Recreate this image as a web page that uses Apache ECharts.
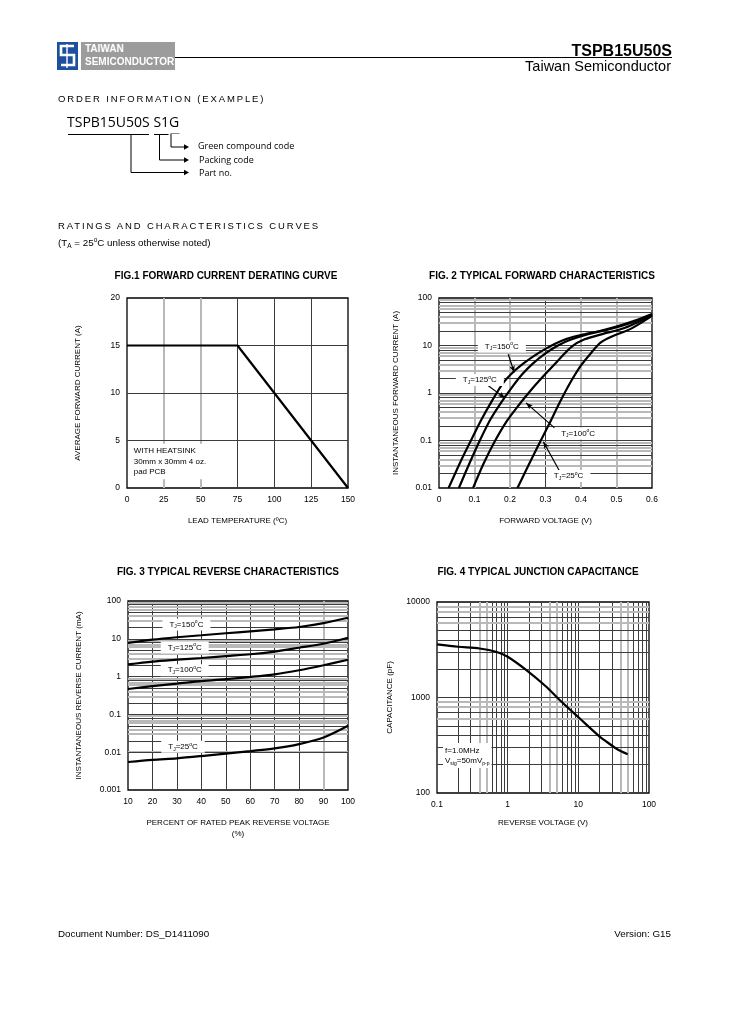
<!DOCTYPE html>
<html>
<head>
<meta charset="utf-8">
<script src="https://cdn.jsdelivr.net/npm/echarts@6/dist/echarts.min.js"></script>
<style>
body { margin: 0; background: #fff; font-family: "Liberation Sans", Arial, sans-serif; color: #000; }
#page { position: relative; width: 729px; height: 1032px; overflow: hidden; }
#chart { position: absolute; left: 0; top: 0; width: 729px; height: 1032px; }
.t { position: absolute; white-space: nowrap; line-height: 1; z-index: 2; }
.ttl { position: absolute; width: 300px; text-align: center; font-weight: bold; font-size: 10px; line-height: 1; z-index: 2; }
.sp { font-size: 9.5px; letter-spacing: 1.88px; }
.os { font-family: "Open Sans", sans-serif; }
svg { position: absolute; left: 0; top: 0; z-index: 2; }
</style>
</head>
<body>
<div id="page">
  <div id="chart"></div>

  <!-- header -->
  <svg width="729" height="260">
    <rect x="57" y="42" width="21" height="28" fill="#1d4f9f"/>
    <path d="M74 46 H61 V55 H74 V65 H61" fill="none" stroke="#fff" stroke-width="2.6"/>
    <path d="M67 44 V68" fill="none" stroke="#fff" stroke-width="1.4"/>
    <rect x="81" y="42" width="94" height="28" fill="#9c9c9c"/>
    <line x1="175" y1="57.5" x2="672" y2="57.5" stroke="#000" stroke-width="1"/>

    <!-- order information brackets -->
    <line x1="68" y1="134.5" x2="149" y2="134.5" stroke="#000" stroke-width="1"/>
    <line x1="154" y1="134.5" x2="168.5" y2="134.5" stroke="#000" stroke-width="1"/>
    <line x1="170.5" y1="133.5" x2="179.5" y2="133.5" stroke="#888" stroke-width="1"/>
    <polyline points="131,134.5 131,172.5 184,172.5" fill="none" stroke="#000" stroke-width="1"/>
    <polygon points="184,169.8 189,172.5 184,175.2" fill="#000"/>
    <polyline points="159.5,134.5 159.5,160 184,160" fill="none" stroke="#000" stroke-width="1"/>
    <polygon points="184,157.3 189,160 184,162.7" fill="#000"/>
    <polyline points="171,134 171,147 184,147" fill="none" stroke="#000" stroke-width="1"/>
    <polygon points="184,144.3 189,147 184,149.7" fill="#000"/>
  </svg>
  <div class="t" style="left:85px;top:44px;font-size:10px;font-weight:bold;color:#fff;">TAIWAN</div>
  <div class="t" style="left:85px;top:57px;font-size:10px;font-weight:bold;color:#fff;">SEMICONDUCTOR</div>
  <div class="t" style="right:57px;top:43px;font-size:16px;font-weight:bold;">TSPB15U50S</div>
  <div class="t" style="right:58px;top:59px;font-size:14.5px;">Taiwan Semiconductor</div>

  <div class="t sp" style="left:58px;top:94px;">ORDER INFORMATION (EXAMPLE)</div>
  <div class="t os" style="left:67px;top:115px;font-size:14px;">TSPB15U50S S1G</div>
  <div class="t os" style="left:198px;top:141px;font-size:9px;">Green compound code</div>
  <div class="t os" style="left:199px;top:155px;font-size:9px;">Packing code</div>
  <div class="t os" style="left:199px;top:168px;font-size:9px;">Part no.</div>

  <div class="t sp" style="left:58px;top:221px;">RATINGS AND CHARACTERISTICS CURVES</div>
  <div class="t" style="left:58px;top:237px;font-size:9.8px;">(T<span style="font-size:6.5px;vertical-align:-2px;">A</span> = 25<span style="font-size:6.5px;vertical-align:4px;">o</span>C unless otherwise noted)</div>

  <div class="ttl" style="left:76px;top:271px;">FIG.1 FORWARD CURRENT DERATING CURVE</div>
  <div class="ttl" style="left:392px;top:271px;">FIG. 2 TYPICAL FORWARD CHARACTERISTICS</div>
  <div class="ttl" style="left:78px;top:567px;">FIG. 3 TYPICAL REVERSE CHARACTERISTICS</div>
  <div class="ttl" style="left:388px;top:567px;">FIG. 4 TYPICAL JUNCTION CAPACITANCE</div>

  <div class="t" style="left:58px;top:929px;font-size:9.8px;">Document Number: DS_D1411090</div>
  <div class="t" style="right:58px;top:929px;font-size:9.8px;">Version: G15</div>
</div>

<script>
// ---------- data ----------
// Fig.1 derating
var fig1Temp = [0, 75, 150];
var fig1Current = [15, 15, 0];
var fig1XTicks = [0, 25, 50, 75, 100, 125, 150];
var fig1YTicks = [0, 5, 10, 15, 20];

// Fig.2 forward characteristics (V, A)
var fig2Volt150 = [0.027, 0.06, 0.09, 0.12, 0.15, 0.18, 0.21, 0.24, 0.27, 0.30, 0.33, 0.36, 0.40, 0.45, 0.50, 0.55, 0.60];
var fig2Amp150  = [0.01, 0.035, 0.1, 0.28, 0.7, 1.6, 2.8, 4.3, 6.2, 8.5, 11.2, 13.8, 16.6, 20, 25, 33, 46];
var fig2Volt125 = [0.056, 0.085, 0.115, 0.145, 0.175, 0.205, 0.235, 0.265, 0.30, 0.335, 0.37, 0.42, 0.48, 0.54, 0.60];
var fig2Amp125  = [0.01, 0.032, 0.1, 0.28, 0.63, 1.3, 2.5, 4.2, 6.8, 10, 13.2, 17.4, 22, 30, 45];
var fig2Volt100 = [0.096, 0.125, 0.155, 0.19, 0.225, 0.26, 0.295, 0.335, 0.374, 0.41, 0.46, 0.52, 0.60];
var fig2Amp100  = [0.01, 0.032, 0.09, 0.25, 0.56, 1.17, 2.3, 4.8, 9.5, 13.5, 17.4, 23, 43];
var fig2Volt25  = [0.221, 0.25, 0.28, 0.31, 0.34, 0.37, 0.40, 0.43, 0.455, 0.49, 0.54, 0.60];
var fig2Amp25   = [0.01, 0.028, 0.079, 0.22, 0.63, 1.66, 3.8, 7.2, 11.5, 15.8, 22.4, 42];
var fig2XTicks = [0, 0.1, 0.2, 0.3, 0.4, 0.5, 0.6];
var fig2YTicks = [0.01, 0.1, 1, 10, 100];

// Fig.3 reverse characteristics (% of VRRM, mA)
var fig3Percent = [10, 20, 30, 40, 50, 60, 70, 80, 90, 100];
var fig3Ma150 = [7.8, 9.5, 11, 12.4, 14, 15.8, 17.8, 20.5, 26, 36];
var fig3Ma125 = [2.1, 2.5, 2.8, 3.1, 3.5, 3.9, 4.6, 5.8, 7.4, 10.7];
var fig3Ma100 = [0.47, 0.56, 0.65, 0.76, 0.86, 0.98, 1.15, 1.47, 2.0, 2.8];
var fig3Ma25  = [0.0055, 0.0063, 0.0069, 0.0079, 0.0092, 0.0107, 0.0126, 0.0164, 0.0245, 0.05];
var fig3XTicks = [10, 20, 30, 40, 50, 60, 70, 80, 90, 100];
var fig3YTicks = [0.001, 0.01, 0.1, 1, 10, 100];

// Fig.4 junction capacitance (V, pF)
var fig4Volt = [0.1, 0.2, 0.4, 0.7, 1, 1.84, 3.52, 5.44, 10.4, 20, 26, 33, 41, 50];
var fig4Cap  = [3600, 3400, 3260, 3000, 2670, 1936, 1297, 942, 606, 390, 338, 298, 272, 255];
var fig4XTicks = [0.1, 1, 10, 100];
var fig4YTicks = [100, 1000, 10000];

var tjTemps = ['150', '125', '100', '25'];

// ---------- annotation placement (data coordinates) ----------
var fig2LabelAt = [[0.177, 9.5], [0.115, 1.88], [0.392, 0.141], [0.365, 0.0179]];
var fig2ArrowAt = [
  [[0.195, 6.56], [0.212, 2.7]],
  [[0.136, 1.47], [0.186, 0.78]],
  [[0.327, 0.18], [0.245, 0.62]],
  [[0.341, 0.0218], [0.294, 0.094]]
];
var fig3LabelAt = [[33.9, 23.8], [33.2, 5.88], [33.2, 1.48], [32.5, 0.0139]];

var FONT = 'Liberation Sans';
var DARK = '#3c3c3c', GREY = '#b9b9b9';

function zip(a, b) { return a.map(function (v, i) { return [v, b[i]]; }); }
function fmt(v) { return String(+(+v).toPrecision(6)); }

function dark() { return { color: DARK, width: 1, type: 'solid' }; }
function grey() { return { color: GREY, width: 2, type: 'solid' }; }

function linLines(dim, ticks, greyVals) {
  return ticks.slice(1, -1).map(function (v) {
    var o = { lineStyle: greyVals.indexOf(v) >= 0 ? grey() : dark() };
    o[dim] = v;
    return o;
  });
}
function logLines(dim, ticks, greyK) {
  var out = [];
  for (var i = 0; i < ticks.length - 1; i++) {
    for (var k = 2; k <= 9; k++) {
      var o = { lineStyle: greyK.indexOf(k) >= 0 ? grey() : dark() };
      o[dim] = +(k * ticks[i]).toPrecision(4);
      out.push(o);
    }
  }
  ticks.slice(1, -1).forEach(function (v) {
    var o = { lineStyle: dark() };
    o[dim] = v;
    out.push(o);
  });
  return out;
}

// markLine / markPoint default to z 5, so set z explicitly
function gridSeries(gi, lines) {
  return {
    type: 'line', xAxisIndex: gi, yAxisIndex: gi, data: [], z: 1, silent: true,
    markLine: { z: 1, silent: true, symbol: 'none', animation: false, label: { show: false },
      lineStyle: { type: 'solid' }, emphasis: { disabled: true }, data: lines }
  };
}
function curve(gi, data, smooth) {
  return {
    type: 'line', xAxisIndex: gi, yAxisIndex: gi, data: data, z: 3, silent: true,
    showSymbol: false, symbol: 'none', smooth: smooth,
    lineStyle: { color: '#000', width: 2.2, type: 'solid' }
  };
}

var tjRich = {
  t: { fontSize: 8, fontFamily: FONT, color: '#000', lineHeight: 10, verticalAlign: 'middle' },
  s: { fontSize: 5, fontFamily: FONT, color: '#000', lineHeight: 10, verticalAlign: 'bottom' },
  u: { fontSize: 5, fontFamily: FONT, color: '#000', lineHeight: 10, verticalAlign: 'top' }
};
function tjText(t) { return '{t|T}{s|J}{t|=' + t + '}{u|o}{t|C}'; }

function labelPoint(coord, text) {
  return {
    coord: coord, symbol: 'circle', symbolSize: 0,
    label: { show: true, position: 'inside', formatter: text, color: '#000',
      backgroundColor: '#fff', padding: [1, 7], rich: tjRich }
  };
}

function axis(gi, type, ticks, name, nameGap, extra) {
  var a = {
    type: type, gridIndex: gi, min: ticks[0], max: ticks[ticks.length - 1],
    axisLine: { show: false }, axisTick: { show: false },
    splitLine: { show: false }, minorTick: { show: false }, minorSplitLine: { show: false },
    axisLabel: { fontSize: 8.5, color: '#000', fontFamily: FONT, margin: 7, formatter: fmt },
    name: name, nameLocation: 'middle', nameGap: nameGap,
    nameTextStyle: { fontSize: 8, color: '#000', fontFamily: FONT, lineHeight: 11 }
  };
  if (type === 'value') a.interval = ticks[1] - ticks[0];
  else a.logBase = 10;
  for (var k in extra) a[k] = extra[k];
  return a;
}

var gridBase = { show: true, borderColor: '#000', borderWidth: 1.3 };

var option = {
  animation: false,
  grid: [
    Object.assign({ left: 127, top: 298, width: 221, height: 190 }, gridBase),
    Object.assign({ left: 439, top: 298, width: 213, height: 190 }, gridBase),
    Object.assign({ left: 128, top: 601, width: 220, height: 189 }, gridBase),
    Object.assign({ left: 437, top: 602, width: 212, height: 191 }, gridBase)
  ],
  xAxis: [
    axis(0, 'value', fig1XTicks, 'LEAD TEMPERATURE (\u00baC)', 27),
    axis(1, 'value', fig2XTicks, 'FORWARD VOLTAGE (V)', 27),
    axis(2, 'value', fig3XTicks, 'PERCENT OF RATED PEAK REVERSE VOLTAGE\n(%)', 27),
    axis(3, 'log', fig4XTicks, 'REVERSE VOLTAGE (V)', 24)
  ],
  yAxis: [
    axis(0, 'value', fig1YTicks, 'AVERAGE FORWARD CURRENT (A)', 44),
    axis(1, 'log', fig2YTicks, 'INSTANTANEOUS FORWARD CURRENT (A)', 38),
    axis(2, 'log', fig3YTicks, 'INSTANTANEOUS REVERSE CURRENT (mA)', 44),
    axis(3, 'log', fig4YTicks, 'CAPACITANCE (pF)', 42)
  ],
  series: [
    // grid lines
    gridSeries(0, linLines('xAxis', fig1XTicks, [25, 50]).concat(linLines('yAxis', fig1YTicks, []))),
    gridSeries(1, linLines('xAxis', fig2XTicks, [0.1, 0.2, 0.4, 0.5]).concat(logLines('yAxis', fig2YTicks, [3, 4, 6, 7, 9]))),
    gridSeries(2, linLines('xAxis', fig3XTicks, [90]).concat(logLines('yAxis', fig3YTicks, [3, 4, 6, 7, 9]))),
    gridSeries(3, logLines('xAxis', fig4XTicks, [4, 5]).concat(logLines('yAxis', fig4YTicks, [6, 8, 9]))),

    // curves
    curve(0, zip(fig1Temp, fig1Current), false),
    curve(1, zip(fig2Volt150, fig2Amp150), 0.3),
    curve(1, zip(fig2Volt125, fig2Amp125), 0.3),
    curve(1, zip(fig2Volt100, fig2Amp100), 0.3),
    curve(1, zip(fig2Volt25, fig2Amp25), 0.3),
    curve(2, zip(fig3Percent, fig3Ma150), 0.3),
    curve(2, zip(fig3Percent, fig3Ma125), 0.3),
    curve(2, zip(fig3Percent, fig3Ma100), 0.3),
    curve(2, zip(fig3Percent, fig3Ma25), 0.3),
    curve(3, zip(fig4Volt, fig4Cap), 0.3),

    // annotations
    {
      type: 'line', xAxisIndex: 0, yAxisIndex: 0, data: [], z: 6, silent: true,
      markPoint: { z: 6, silent: true, animation: false, data: [{
        coord: [2.5, 4.66], symbol: 'circle', symbolSize: 0,
        label: { show: true, position: [0, 0], align: 'left', verticalAlign: 'top',
          formatter: 'WITH HEATSINK\n30mm x 30mm 4 oz.\npad PCB',
          color: '#000', fontSize: 8, fontFamily: FONT, lineHeight: 10.5,
          backgroundColor: '#fff', padding: [2, 3] }
      }] }
    },
    {
      type: 'line', xAxisIndex: 1, yAxisIndex: 1, data: [], z: 6, silent: true,
      markPoint: { z: 6, silent: true, animation: false,
        data: tjTemps.map(function (t, i) { return labelPoint(fig2LabelAt[i], tjText(t)); }) },
      markLine: { z: 6, silent: true, animation: false, symbol: ['none', 'arrow'], symbolSize: [4, 7],
        label: { show: false }, lineStyle: { color: '#000', width: 1.2, type: 'solid' },
        data: fig2ArrowAt.map(function (p) { return [{ coord: p[0] }, { coord: p[1] }]; }) }
    },
    {
      type: 'line', xAxisIndex: 2, yAxisIndex: 2, data: [], z: 6, silent: true,
      markPoint: { z: 6, silent: true, animation: false,
        data: tjTemps.map(function (t, i) { return labelPoint(fig3LabelAt[i], tjText(t)); }) }
    },
    {
      type: 'line', xAxisIndex: 3, yAxisIndex: 3, data: [], z: 6, silent: true,
      markPoint: { z: 6, silent: true, animation: false, data: [{
        coord: [0.1216, 333], symbol: 'circle', symbolSize: 0,
        label: { show: true, position: [0, 0], align: 'left', verticalAlign: 'top',
          formatter: '{a|f=1.0MHz}\n{a|V}{s|sig}{a|=50mV}{s|p-p}',
          backgroundColor: '#fff', padding: [3, 2, 2, 2],
          rich: {
            a: { fontSize: 8, fontFamily: FONT, color: '#000', lineHeight: 10, verticalAlign: 'middle' },
            s: { fontSize: 5, fontFamily: FONT, color: '#000', lineHeight: 10, verticalAlign: 'bottom' }
          } }
      }] }
    }
  ]
};

var chart = echarts.init(document.getElementById('chart'));
chart.setOption(option);
</script>
</body>
</html>
